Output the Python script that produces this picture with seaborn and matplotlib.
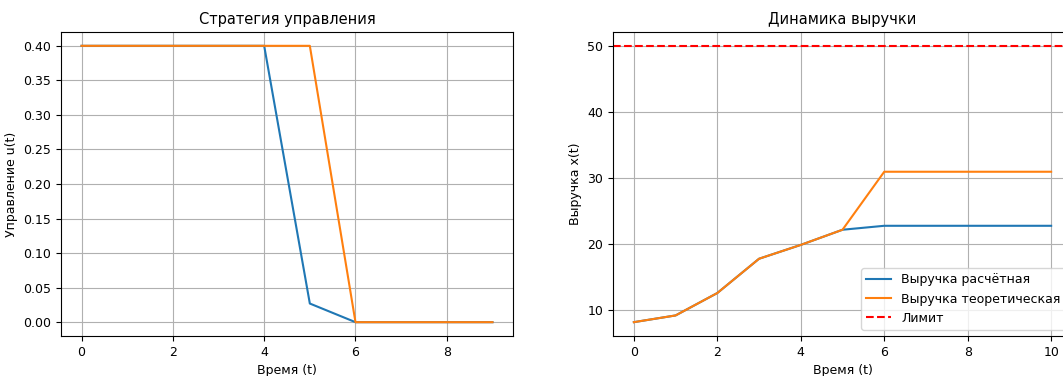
import numpy as np
import pandas as pd
import matplotlib
matplotlib.use("Agg")
import matplotlib.pyplot as plt
import seaborn as sns

# ---- data ----
t_u = [0, 1, 2, 3, 4, 5, 6, 7, 8, 9]
u_calc = [0.4, 0.4, 0.4, 0.4, 0.4, 0.027, 0.0, 0.0, 0.0, 0.0]
u_theor = [0.4, 0.4, 0.4, 0.4, 0.4, 0.4, 0.0, 0.0, 0.0, 0.0]

t_x = [0, 1, 2, 3, 4, 5, 6, 7, 8, 9, 10]
x_calc = [8.08, 9.1, 12.5, 17.7, 19.8, 22.1, 22.7, 22.7, 22.7, 22.7, 22.7]
x_theor = [8.08, 9.1, 12.5, 17.7, 19.8, 22.1, 30.9, 30.9, 30.9, 30.9, 30.9]
limit = 50

lbl_calc = "Выручка расчётная"
lbl_theor = "Выручка теоретическая"
lbl_limit = "Лимит"

plt.rcParams["font.family"] = ["DejaVu Sans"]

df_u = pd.DataFrame({
    "t": t_u + t_u,
    "u": u_calc + u_theor,
    "s": ["calc"] * len(t_u) + ["theor"] * len(t_u),
})
df_x = pd.DataFrame({
    "t": t_x + t_x,
    "x": x_calc + x_theor,
    "s": [lbl_calc] * len(t_x) + [lbl_theor] * len(t_x),
})

W, H = 1063, 376
fig = plt.figure(figsize=(W / 100, H / 100), dpi=100)
ax1 = fig.add_axes([61 / W, 40 / H, 452 / W, 304 / H])
ax2 = fig.add_axes([613 / W, 40 / H, 459 / W, 304 / H])

pal_u = {"calc": "#1f77b4", "theor": "#ff7f0e"}
pal_x = {lbl_calc: "#1f77b4", lbl_theor: "#ff7f0e"}

sns.lineplot(data=df_u, x="t", y="u", hue="s", palette=pal_u, ax=ax1,
             legend=False, linewidth=1.5)
ax1.set_title("Стратегия управления", fontsize=10.5)
ax1.set_xlabel("Время (t)", fontsize=9)
ax1.set_ylabel("Управление u(t)", fontsize=9)
ax1.tick_params(labelsize=9)
ax1.grid(True)
ax1.set_xticks([0, 2, 4, 6, 8])
ax1.set_ylim(-0.02, 0.42)

sns.lineplot(data=df_x, x="t", y="x", hue="s", palette=pal_x, ax=ax2,
             linewidth=1.5)
ax2.axhline(limit, color="red", linestyle="--", linewidth=1.5, label=lbl_limit)
ax2.set_title("Динамика выручки", fontsize=10.5)
ax2.set_xlabel("Время (t)", fontsize=9)
ax2.set_ylabel("Выручка x(t)", fontsize=9)
ax2.tick_params(labelsize=9)
ax2.grid(True)
ax2.set_xticks([0, 2, 4, 6, 8, 10])
ax2.set_yticks([10, 20, 30, 40, 50])
ax2.set_xlim(-0.5, 10.5)
ax2.set_ylim(5.98, 52.1)
ax2.legend(loc="lower right", fontsize=9)

fig.savefig("out.png", dpi=100)
